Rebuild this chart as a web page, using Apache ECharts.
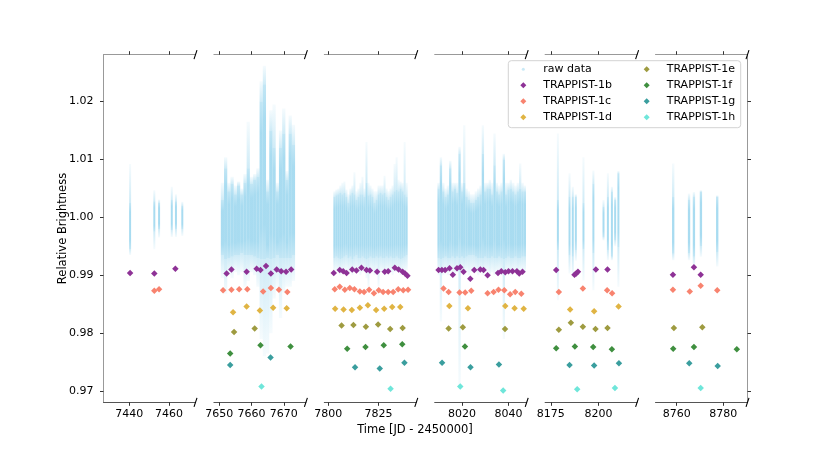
<!DOCTYPE html>
<html><head><meta charset="utf-8">
<script src="https://cdn.jsdelivr.net/npm/echarts@6/dist/echarts.min.js"></script>
<style>html,body{margin:0;padding:0;background:#fff}#c{width:830px;height:461px}</style>
</head><body><div id="c"></div>
<script>
// ---- axis scales & ticks ----
const xLimits = [[7427.0,7473.35],[7648.36,7676.85],[7798.0,7843.8],[8008.33,8047.8],[8172.0,8220.2],[8750.9,8790.4]];
const xTicks = [[7440,7460],[7650,7660,7670],[7800,7825],[8020,8040],[8175,8200],[8760,8780]];
const yTicks = [0.97,0.98,0.99,1.00,1.01,1.02];
const yLimits = [0.96805,1.0281];

// ---- raw photometry, read as columns: [time, tailLow, coreLow, coreHigh, tailHigh] ----
const rawData = [
 [7440.4,0.9935,0.9945,1.0025,1.0092],[7452.6,0.9945,0.9975,1.0028,1.0047],[7455.0,0.9965,0.9980,1.0025,1.0031],
 [7461.4,0.9966,0.9978,1.0030,1.0053],[7463.5,0.9966,0.9980,1.0028,1.0040],[7466.7,0.9968,0.9980,1.0020,1.0027],
 [7651,0.9895,0.9935,1.0030,1.0060],[7652,0.9868,0.9928,1.0085,1.0104],[7653,0.9900,0.9930,1.0045,1.0060],
 [7654,0.9895,0.9932,1.0058,1.0070],[7655,0.9905,0.9935,1.0040,1.0055],[7656,0.9900,0.9935,1.0055,1.0062],
 [7657,0.9905,0.9938,1.0040,1.0050],[7658,0.9880,0.9935,1.0060,1.0075],[7659,0.9890,0.9935,1.0085,1.0165],
 [7660,0.9905,0.9935,1.0058,1.0070],[7661,0.9900,0.9932,1.0065,1.0075],[7662,0.9880,0.9930,1.0070,1.0085],
 [7663,0.9790,0.9928,1.0200,1.0235],[7664,0.9760,0.9928,1.0230,1.0262],[7665,0.9765,0.9930,1.0045,1.0065],
 [7666,0.9800,0.9928,1.0150,1.0185],[7667,0.9860,0.9930,1.0120,1.0195],[7668,0.9880,0.9935,1.0045,1.0060],
 [7669,0.9826,0.9930,1.0120,1.0150],[7670,0.9870,0.9930,1.0145,1.0188],[7671,0.9880,0.9930,1.0065,1.0080],
 [7672,0.9880,0.9930,1.0145,1.0176],[7673,0.9890,0.9935,1.0125,1.0160],
 [7803,0.9905,0.9930,1.0035,1.0045],[7804,0.9908,0.9932,1.0038,1.0048],[7805,0.9905,0.9930,1.0040,1.0050],
 [7806,0.9900,0.9928,1.0042,1.0055],[7807,0.9905,0.9930,1.0040,1.0060],[7808,0.9905,0.9932,1.0042,1.0062],
 [7809,0.9908,0.9935,1.0035,1.0048],[7810,0.9905,0.9930,1.0025,1.0040],[7811,0.9905,0.9932,1.0038,1.0050],
 [7812,0.9900,0.9928,1.0042,1.0055],[7813,0.9905,0.9932,1.0040,1.0078],[7814,0.9908,0.9935,1.0030,1.0045],
 [7815,0.9905,0.9930,1.0035,1.0050],[7816,0.9900,0.9930,1.0040,1.0060],[7817,0.9905,0.9932,1.0040,1.0070],
 [7818,0.9905,0.9930,1.0035,1.0050],[7819,0.9895,0.9928,1.0060,1.0130],[7820,0.9880,0.9930,1.0038,1.0060],
 [7821,0.9905,0.9932,1.0040,1.0055],[7822,0.9905,0.9930,1.0035,1.0050],[7823,0.9900,0.9930,1.0025,1.0045],
 [7824,0.9905,0.9932,1.0030,1.0045],[7825,0.9880,0.9930,1.0040,1.0055],[7826,0.9905,0.9932,1.0042,1.0055],
 [7827,0.9905,0.9930,1.0040,1.0055],[7828,0.9900,0.9930,1.0042,1.0072],[7829,0.9905,0.9932,1.0035,1.0050],
 [7830,0.9905,0.9930,1.0030,1.0045],[7831,0.9905,0.9932,1.0035,1.0050],[7832,0.9900,0.9930,1.0040,1.0055],
 [7833,0.9905,0.9930,1.0045,1.0092],[7834,0.9905,0.9932,1.0048,1.0104],[7835,0.9905,0.9930,1.0045,1.0065],
 [7836,0.9900,0.9928,1.0050,1.0062],[7837,0.9905,0.9930,1.0045,1.0060],[7838,0.9905,0.9932,1.0040,1.0130],
 [7839,0.9908,0.9935,1.0035,1.0060],
 [8010,0.9900,0.9930,1.0050,1.0060],[8011,0.9820,0.9928,1.0090,1.0104],[8012,0.9900,0.9930,1.0045,1.0060],
 [8013,0.9905,0.9932,1.0035,1.0050],[8014,0.9900,0.9930,1.0040,1.0055],[8015,0.9905,0.9930,1.0085,1.0098],
 [8016,0.9905,0.9932,1.0045,1.0060],[8017,0.9900,0.9930,1.0050,1.0060],[8018,0.9905,0.9932,1.0042,1.0060],
 [8019,0.9707,0.9930,1.0110,1.0122],[8020,0.9905,0.9932,1.0045,1.0060],[8021,0.9900,0.9930,1.0060,1.0159],
 [8022,0.9905,0.9932,1.0035,1.0050],[8023,0.9900,0.9935,1.0030,1.0045],[8024,0.9905,0.9935,1.0025,1.0040],
 [8025,0.9905,0.9935,1.0025,1.0040],[8026,0.9905,0.9932,1.0030,1.0045],[8027,0.9900,0.9930,1.0035,1.0050],
 [8028,0.9905,0.9930,1.0040,1.0055],[8029,0.9900,0.9930,1.0110,1.0159],[8030,0.9905,0.9932,1.0045,1.0060],
 [8031,0.9905,0.9930,1.0050,1.0060],[8032,0.9900,0.9930,1.0050,1.0065],[8033,0.9905,0.9932,1.0040,1.0060],
 [8034,0.9900,0.9930,1.0090,1.0145],[8035,0.9905,0.9930,1.0045,1.0060],[8036,0.9905,0.9932,1.0040,1.0055],
 [8037,0.9900,0.9930,1.0045,1.0060],[8038,0.9790,0.9928,1.0100,1.0110],[8039,0.9905,0.9930,1.0040,1.0060],
 [8040,0.9905,0.9932,1.0048,1.0060],[8041,0.9900,0.9930,1.0050,1.0065],[8042,0.9905,0.9930,1.0045,1.0060],
 [8043,0.9905,0.9932,1.0040,1.0055],[8044,0.9900,0.9930,1.0045,1.0060],[8045,0.9905,0.9930,1.0050,1.0093],
 [8046,0.9905,0.9932,1.0045,1.0060],[8047,0.9905,0.9932,1.0045,1.0055],
 [8178.7,0.9857,0.9943,1.0030,1.0145],[8184.8,0.9903,0.9934,1.0036,1.0076],[8186.5,0.9897,0.9932,1.0036,1.0053],
 [8188.1,0.9925,0.9943,1.0035,1.0040],[8192.1,0.9891,0.9945,1.0025,1.0104],[8197.3,0.9874,0.9938,1.0058,1.0081],
 [8202.6,0.9960,0.9966,1.0018,1.0030],[8204.9,0.9926,0.9943,1.0035,1.0076],[8207.0,0.9926,0.9932,1.0044,1.0053],
 [8208.7,0.9950,0.9960,1.0030,1.0035],[8210.4,0.9880,0.9949,1.0076,1.0080],
 [8758.5,0.9926,0.9937,1.0035,1.0093],[8765.3,0.9926,0.9938,1.0030,1.0041],[8767.4,0.9915,0.9932,1.0035,1.0044],
 [8770.4,0.9932,0.9950,1.0044,1.0047],[8777.4,0.9915,0.9940,1.0035,1.0038]
];

// ---- transit depths per planet: [time, relative brightness] ----
const planetB = [
 [7440.4,0.9904],[7452.6,0.9903],[7463.2,0.9911],
 [7652.3,0.9903],[7653.8,0.9910],[7658.5,0.9906],[7661.6,0.9911],[7662.8,0.9909],[7664.5,0.9916],[7666.0,0.9903],
 [7667.8,0.9910],[7669.2,0.9907],[7670.7,0.9906],[7672.3,0.9910],
 [7802.7,0.9904],[7805.7,0.9909],[7807.4,0.9907],[7809.1,0.9904],[7811.9,0.9910],[7814.0,0.9908],[7816.5,0.9913],
 [7819.0,0.9909],[7820.7,0.9908],[7824.3,0.9906],[7828.1,0.9906],[7829.8,0.9907],[7833.1,0.9913],[7835.0,0.9910],
 [7837.0,0.9906],[7838.2,0.9903],[7839.4,0.9899],
 [8010.0,0.9909],[8011.4,0.9909],[8012.8,0.9909],[8014.7,0.9912],[8016.1,0.9901],[8017.9,0.9912],[8019.3,0.9914],
 [8020.7,0.9906],[8023.6,0.9894],[8025.3,0.9909],[8027.9,0.9910],[8029.3,0.9909],[8031.0,0.9900],[8035.5,0.9904],
 [8036.9,0.9907],[8038.6,0.9905],[8040.0,0.9907],[8041.7,0.9907],[8043.6,0.9907],[8044.6,0.9903],[8046.0,0.9906],
 [8177.8,0.9909],[8187.4,0.9901],[8188.3,0.9903],[8189.2,0.9906],[8198.6,0.9910],[8204.7,0.9910],
 [8758.4,0.9901],[8767.4,0.9914],[8770.3,0.9901]
];
const planetC = [
 [7452.6,0.9873],[7455.0,0.9876],
 [7651.2,0.9874],[7653.8,0.9875],[7656.2,0.9876],[7658.7,0.9876],[7663.6,0.9872],[7666.0,0.9878],[7668.5,0.9875],[7671.1,0.9871],
 [7803.2,0.9876],[7805.7,0.9880],[7808.2,0.9875],[7810.7,0.9878],[7813.0,0.9876],[7815.7,0.9872],[7817.8,0.9871],
 [7820.3,0.9875],[7822.7,0.9869],[7825.1,0.9874],[7827.3,0.9871],[7829.8,0.9871],[7832.3,0.9871],[7834.8,0.9876],
 [7837.3,0.9874],[7839.7,0.9875],
 [8012.1,0.9877],[8014.3,0.9871],[8019.0,0.9870],[8021.4,0.9870],[8024.0,0.9873],[8031.0,0.9869],[8033.6,0.9871],
 [8035.7,0.9875],[8038.2,0.9874],[8040.7,0.9867],[8042.9,0.9871],[8045.5,0.9868],
 [8179.2,0.9871],[8191.8,0.9877],[8204.5,0.9874],[8207.1,0.9869],
 [8758.4,0.9875],[8765.6,0.9872],[8770.3,0.9882],[8777.4,0.9874]
];
const planetD = [
 [7654.3,0.9836],[7658.5,0.9846],[7662.6,0.9839],[7666.7,0.9844],[7670.9,0.9843],
 [7803.4,0.9842],[7807.6,0.9841],[7811.7,0.9840],[7815.7,0.9844],[7819.7,0.9848],[7823.8,0.9840],[7827.8,0.9842],
 [7831.8,0.9845],[7835.8,0.9845],
 [8014.6,0.9847],[8022.6,0.9843],[8038.6,0.9847],[8042.6,0.9843],[8046.5,0.9842],
 [8185.1,0.9841],[8197.7,0.9838],[8210.5,0.9846]
];
const planetE = [
 [7654.6,0.9802],[7661.0,0.9808],
 [7806.6,0.9813],[7812.5,0.9814],[7818.7,0.9811],[7824.8,0.9815],[7830.8,0.9807],[7837.0,0.9809],
 [8014.3,0.9808],[8020.4,0.9810],[8038.5,0.9807],
 [8179.2,0.9806],[8185.5,0.9818],[8191.8,0.9811],[8198.4,0.9807],[8204.7,0.9809],
 [8758.8,0.9809],[8771.0,0.9810]
];
const planetF = [
 [7653.4,0.9765],[7662.8,0.9779],[7672.1,0.9777],
 [7809.4,0.9773],[7818.5,0.9776],[7827.6,0.9779],[7836.8,0.9781],
 [8021.3,0.9777],
 [8177.8,0.9774],[8187.6,0.9777],[8197.2,0.9776],[8207.0,0.9772],
 [8758.5,0.9773],[8767.4,0.9776],[8785.8,0.9772]
];
const planetG = [
 [7653.4,0.9745],[7665.9,0.9758],
 [7813.3,0.9741],[7825.6,0.9739],[7837.9,0.9749],
 [8011.5,0.9749],[8023.7,0.9741],[8035.9,0.9746],
 [8184.8,0.9745],[8197.7,0.9744],[8210.7,0.9748],
 [8765.4,0.9748],[8777.6,0.9743]
];
const planetH = [
 [7663.1,0.9708],[7831.0,0.9704],[8019.3,0.9708],[8037.7,0.9701],[8188.8,0.9703],[8208.6,0.9705],[8770.3,0.9705]
];
const planetNames = ['TRAPPIST-1b','TRAPPIST-1c','TRAPPIST-1d','TRAPPIST-1e','TRAPPIST-1f','TRAPPIST-1g','TRAPPIST-1h'];
const planetData = [planetB,planetC,planetD,planetE,planetF,planetG,planetH];

// ---- styles / layout ----
const planetColors = ['#8E3296','#F8836F','#E0B443','#9E9B40','#3F8F3F','#3A9E9E','#6FE6DA'];
const FONT = 'DejaVu Sans';
const L0 = 103.5, STEP = 110.4, W = 92, TOP = 54.7, H = 347.6;
const SKY = 'rgba(135,206,235,';

const chart = echarts.init(document.getElementById('c'));
const grids = xLimits.map((_, i) => ({left: L0 + i*STEP, top: TOP, width: W, height: H}));

const xAxes = [];
xLimits.forEach((lim, i) => {
  const base = {type:'value', gridIndex:i, min:lim[0], max:lim[1], splitLine:{show:false}};
  xAxes.push(Object.assign({}, base, {position:'bottom',
    axisLine:{show:true, onZero:false, lineStyle:{color:'#555', width:1}},
    axisTick:{show:true, customValues:xTicks[i], length:3.5, lineStyle:{color:'#333'}},
    axisLabel:{show:true, customValues:xTicks[i], formatter:v => String(v), margin:6,
      fontSize:11, fontFamily:FONT, color:'#000'}}));
  xAxes.push(Object.assign({}, base, {position:'top',
    axisLine:{show:true, onZero:false, lineStyle:{color:'#999', width:1}},
    axisTick:{show:true, customValues:xTicks[i], length:3.5, lineStyle:{color:'#333'}},
    axisLabel:{show:false}}));
});
const yAxes = xLimits.map((_, i) => {
  const a = {type:'value', gridIndex:i, min:yLimits[0], max:yLimits[1], splitLine:{show:false}};
  if (i === 0) Object.assign(a, {position:'left',
    axisLine:{show:true, onZero:false, lineStyle:{color:'#999'}},
    axisTick:{show:true, customValues:yTicks, length:3.5, lineStyle:{color:'#333'}},
    axisLabel:{customValues:yTicks, formatter:v => v.toFixed(2), margin:10, fontSize:11, fontFamily:FONT, color:'#000'}});
  else if (i === xLimits.length - 1) Object.assign(a, {position:'right',
    axisLine:{show:true, onZero:false, lineStyle:{color:'#999'}},
    axisTick:{show:true, customValues:yTicks, length:3.5, lineStyle:{color:'#333'}},
    axisLabel:{show:false}});
  else a.show = false;
  return a;
});

function vGrad(stops) {
  return {type:'linear', x:0, y:0, x2:0, y2:1,
    colorStops: stops.map(s => ({offset:s[0], color:SKY + s[1] + ')'}))};
}
function renderRaw(params, api) {
  const t = api.value(0);
  const pTL = api.coord([t, api.value(1)]);
  const pCL = api.coord([t, api.value(2)]);
  const pCH = api.coord([t, api.value(3)]);
  const pTH = api.coord([t, api.value(4)]);
  const w = Math.max(api.size([1, 0])[0], 2);
  const x = pCL[0] - w/2;
  return {type:'group', children:[
    {type:'rect', shape:{x:x, y:pTH[1], width:w, height:Math.max(pCH[1]-pTH[1],0)},
     style:{fill:vGrad([[0,0.08],[1,0.40]])}},
    {type:'rect', shape:{x:x, y:pCL[1], width:w, height:Math.max(pTL[1]-pCL[1],0)},
     style:{fill:vGrad([[0,0.40],[1,0.08]])}},
    {type:'rect', shape:{x:x, y:pCH[1], width:w, height:pCL[1]-pCH[1]},
     style:{fill:vGrad([[0,0.50],[0.2,0.72],[0.8,0.72],[1,0.50]])}}
  ]};
}

const inPanel = (t, i) => t >= xLimits[i][0] && t <= xLimits[i][1];
const series = [];
xLimits.forEach((_, i) => {
  series.push({type:'custom', name:'raw data', xAxisIndex:2*i, yAxisIndex:i, clip:true, silent:true, z:1,
    renderItem:renderRaw, encode:{x:0, y:[1,2,3,4]}, itemStyle:{color:SKY+'0.5)'},
    data: rawData.filter(r => inPanel(r[0], i))});
});
planetData.forEach((pd, k) => {
  xLimits.forEach((_, i) => {
    const d = pd.filter(p => inPanel(p[0], i));
    if (!d.length) return;
    series.push({type:'scatter', name:planetNames[k], xAxisIndex:2*i, yAxisIndex:i, silent:true, z:3,
      symbol:'diamond', symbolSize:6.5, itemStyle:{color:planetColors[k], opacity:1}, data:d});
  });
});

const legendBase = {orient:'vertical', itemWidth:6, itemHeight:6, itemGap:0, padding:0,
  selectedMode:false, z:6,
  textStyle:{fontSize:11, fontFamily:FONT, color:'#000', lineHeight:16, padding:[0,0,0,12]}};
const legends = [
  Object.assign({}, legendBase, {left:521.8, top:61.3, itemWidth:3, itemHeight:3,
    textStyle:Object.assign({}, legendBase.textStyle, {padding:[0,0,0,13.5]}),
    data:[{name:'raw data', icon:'circle', itemStyle:{color:SKY+'0.45)'}}]}),
  Object.assign({}, legendBase, {left:520.3, top:77.3,
    data:planetNames.slice(0,3).map(n => ({name:n, icon:'diamond'}))}),
  Object.assign({}, legendBase, {left:643.7, top:61.3,
    data:planetNames.slice(3).map(n => ({name:n, icon:'diamond'}))})
];

const graphics = [
  {type:'rect', z:5, shape:{x:508.3, y:60.7, width:232.4, height:67, r:3},
   style:{fill:'rgba(255,255,255,0.8)', stroke:'#d3d3d3', lineWidth:1}},
  {type:'text', x:415, y:430, style:{text:'Time [JD - 2450000]', fontSize:11.5, fontFamily:FONT, fill:'#000', align:'center', verticalAlign:'middle'}},
  {type:'text', x:63.3, y:228.5, rotation:Math.PI/2, style:{text:'Relative Brightness', fontSize:11.5, fontFamily:FONT, fill:'#000', align:'center', verticalAlign:'middle'}}
];
grids.forEach(g => {
  const rx = g.left + g.width;
  [TOP, TOP + H].forEach(y => graphics.push({type:'line', z:10,
    shape:{x1:rx-1.5, y1:y+4.5, x2:rx+1.5, y2:y-4.5}, style:{stroke:'#000', lineWidth:1.1}}));
});

chart.setOption({
  animation:false,
  backgroundColor:'#fff',
  grid:grids, xAxis:xAxes, yAxis:yAxes,
  legend:legends, series:series, graphic:graphics
});
</script></body></html>
